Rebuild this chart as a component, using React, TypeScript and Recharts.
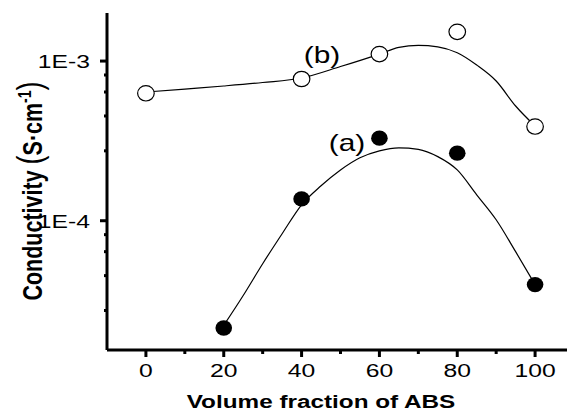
import React from 'react';
import { ComposedChart, Line, Scatter, XAxis, YAxis } from 'recharts';

// measured points, volume fraction of ABS vs conductivity (S/cm)
const fracA = [20, 40, 60, 80, 100];
const condA = [2.13e-5, 1.37e-4, 3.29e-4, 2.65e-4, 3.98e-5];
const fracB = [0, 40, 60, 80, 100];
const condB = [6.28e-4, 7.72e-4, 1.106e-3, 1.524e-3, 3.89e-4];

// fitted curves
const fitFracA = [20, 25, 30, 35, 40, 45, 50, 55, 60, 65, 70, 75, 80, 85, 90, 95, 100];
const fitCondA = [2.21e-5, 3.4e-5, 5.38e-5, 8.29e-5, 1.259e-4, 1.655e-4, 2.08e-4, 2.48e-4, 2.74e-4, 2.86e-4, 2.8e-4, 2.52e-4, 2.08e-4, 1.453e-4, 1.014e-4, 6.4e-5, 3.98e-5];
const fitFracB = [0, 10, 20, 30, 40, 50, 60, 65, 70, 75, 80, 85, 90, 95, 100];
const fitCondB = [6.4e-4, 6.68e-4, 6.98e-4, 7.34e-4, 7.83e-4, 9.24e-4, 1.106e-3, 1.219e-3, 1.253e-3, 1.227e-3, 1.127e-3, 9.44e-4, 7.5e-4, 5.23e-4, 3.92e-4];

const xTicks = [0, 10, 20, 30, 40, 50, 60, 70, 80, 90, 100];
const yMajor = [1e-3, 1e-4];
const yMinorSteps = [0.818, 0.64, 0.453, 0.274];

const pointsA = fracA.map((x, i) => ({ x, y: condA[i] }));
const pointsB = fracB.map((x, i) => ({ x, y: condB[i] }));
const curveA = fitFracA.map((x, i) => ({ x, y: fitCondA[i] }));
const curveB = fitFracB.map((x, i) => ({ x, y: fitCondB[i] }));
const yTicks = yMajor.flatMap((m) => [m, ...yMinorSteps.map((s) => m * s)]);

const FONT = "'Liberation Sans', Arial, sans-serif";
const SX = 1.3; // the figure is stretched sideways

const XTick = ({ x, y, payload }: any) => {
  const major = payload.value % 20 === 0;
  return (
    <g>
      <line x1={x} x2={x} y1={y} y2={y + (major ? 7 : 4)} stroke="#000" strokeWidth={3} />
      {major && (
        <text transform={`translate(${x},${y + 27}) scale(${SX},1)`} textAnchor="middle" fontSize={19} fontFamily={FONT} fill="#000">
          {payload.value}
        </text>
      )}
    </g>
  );
};

const YTick = ({ x, y, payload }: any) => {
  const major = yMajor.some((m) => Math.abs(m - payload.value) / m < 1e-6);
  return (
    <g>
      <line x1={x - (major ? 7 : 3)} x2={x} y1={y} y2={y} stroke="#000" strokeWidth={3} />
      {major && (
        <text transform={`translate(${x - 17},${y + 6.8}) scale(${SX},1)`} textAnchor="end" fontSize={19} fontFamily={FONT} fill="#000">
          {`1E${Math.round(Math.log10(payload.value))}`}
        </text>
      )}
    </g>
  );
};

const OpenDot = ({ cx, cy }: any) => (
  <ellipse cx={cx} cy={cy} rx={8.3} ry={7.7} fill="#fff" stroke="#000" strokeWidth={1.2} />
);
const FilledDot = ({ cx, cy }: any) => <ellipse cx={cx} cy={cy} rx={8.3} ry={7.7} fill="#000" />;

export default function App() {
  return (
    <div style={{ position: 'absolute', left: 0, top: 0, width: 567, height: 414, overflow: 'hidden', background: '#fff' }}>
      <ComposedChart width={600} height={414} margin={{ top: 13, right: 26, bottom: 0, left: 0 }}>
        <XAxis
          xAxisId="top"
          orientation="top"
          type="number"
          dataKey="x"
          domain={[-10, 110]}
          height={0}
          tick={false}
          tickLine={false}
          axisLine={{ stroke: '#000', strokeWidth: 1 }}
        />
        <XAxis
          type="number"
          dataKey="x"
          domain={[-10, 110]}
          ticks={xTicks}
          interval={0}
          height={64}
          tickSize={0}
          tickMargin={0}
          tickLine={false}
          tick={<XTick />}
          axisLine={{ stroke: '#000', strokeWidth: 3 }}
        />
        <YAxis
          scale="log"
          type="number"
          dataKey="y"
          domain={[1.55e-5, 2e-3]}
          allowDataOverflow
          ticks={yTicks}
          interval={0}
          width={107}
          tickSize={0}
          tickMargin={0}
          tickLine={false}
          tick={<YTick />}
          axisLine={{ stroke: '#000', strokeWidth: 3 }}
        />
        <Line data={curveB} dataKey="y" type="monotone" stroke="#000" strokeWidth={1.2} dot={false} isAnimationActive={false} />
        <Line data={curveA} dataKey="y" type="monotone" stroke="#000" strokeWidth={1.2} dot={false} isAnimationActive={false} />
        <Scatter data={pointsB} dataKey="y" shape={<OpenDot />} isAnimationActive={false} />
        <Scatter data={pointsA} dataKey="y" shape={<FilledDot />} isAnimationActive={false} />
      </ComposedChart>
      <svg width={567} height={414} style={{ position: 'absolute', left: 0, top: 0, pointerEvents: 'none' }}>
        <text transform={`translate(322,63) scale(${SX},1)`} textAnchor="middle" fontSize={23} fontFamily={FONT} fill="#000">(b)</text>
        <text transform={`translate(347,151) scale(${SX},1)`} textAnchor="middle" fontSize={23} fontFamily={FONT} fill="#000">(a)</text>
        <text transform={`translate(321,408) scale(${SX},1)`} textAnchor="middle" fontSize={18.7} fontWeight="bold" fontFamily={FONT} fill="#000">
          Volume fraction of ABS
        </text>
        <text transform={`translate(41.5,191) scale(${SX},1) rotate(-90)`} textAnchor="middle" fontSize={21.5} fontWeight="bold" fontFamily={FONT} fill="#000">
          <tspan>Conductivity </tspan>
          <tspan fontSize={27} fontWeight="normal">(</tspan>
          <tspan>S·cm</tspan>
          <tspan fontSize={14} dy={-8}>-1</tspan>
          <tspan fontSize={27} fontWeight="normal" dy={8}>)</tspan>
        </text>
      </svg>
    </div>
  );
}
